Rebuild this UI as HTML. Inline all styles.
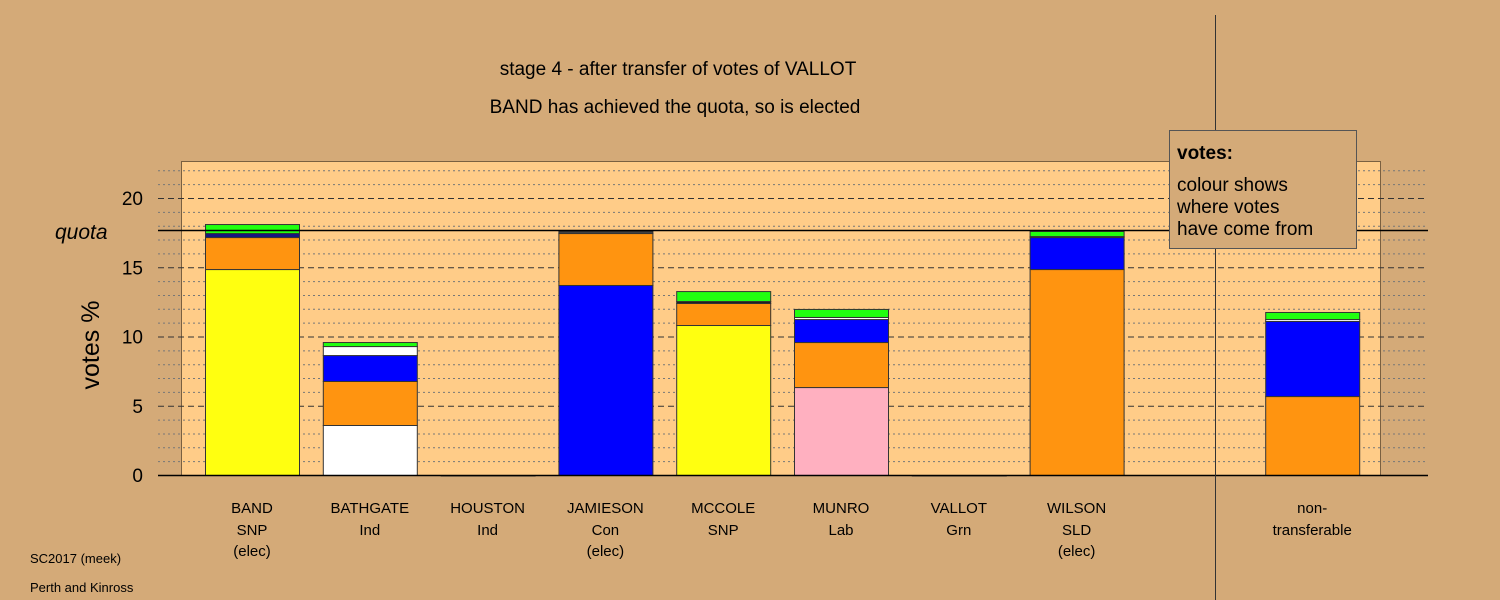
<!DOCTYPE html>
<html><head><meta charset="utf-8"><style>
body{margin:0;background:#d4aa78;}
svg{display:block;font-family:"Liberation Sans",sans-serif;}
</style></head><body>
<svg id="chart" width="1500" height="600" viewBox="0 0 1500 600" xmlns="http://www.w3.org/2000/svg">
<rect x="0" y="0" width="1500" height="600" fill="#d4aa78"/>
<rect x="181.5" y="161.5" width="1199" height="314" fill="#ffcc88" stroke="#7a6040" stroke-width="1"/>
<g id="grid"></g>
<g id="bars"></g>
<line x1="158" x2="1428" y1="230.5" y2="230.5" stroke="#000" stroke-width="1.5"/>
<line x1="158" x2="1428" y1="475.5" y2="475.5" stroke="#000" stroke-width="1.5"/>
<line x1="1215.5" x2="1215.5" y1="15" y2="600" stroke="#333" stroke-width="1"/>
<g id="yticks"></g>
<text x="55" y="239" font-size="21" font-style="italic">quota</text>
<text transform="translate(99,345) rotate(-90)" text-anchor="middle" font-size="25">votes %</text>
<text x="678" y="75" text-anchor="middle" font-size="19">stage 4 - after transfer of votes of VALLOT</text>
<text x="675" y="113" text-anchor="middle" font-size="19">BAND has achieved the quota, so is elected</text>
<g>
<rect x="1169.5" y="130.5" width="187" height="118" fill="#d4aa78" stroke="#555" stroke-width="1"/>
<text x="1177" y="159" font-size="19" font-weight="bold">votes:</text>
<text x="1177" y="191" font-size="19">colour shows</text>
<text x="1177" y="213" font-size="19">where votes</text>
<text x="1177" y="235" font-size="19">have come from</text>
</g>
<g id="xlabels"></g>
<text x="30" y="563" font-size="13">SC2017 (meek)</text>
<text x="30" y="592" font-size="13">Perth and Kinross</text>
</svg>
<script>
const candidates=["BAND","BATHGATE","HOUSTON","JAMIESON","MCCOLE","MUNRO","VALLOT","WILSON","non-"];
const parties=["SNP","Ind","Ind","Con","SNP","Lab","Grn","SLD","transferable"];
const elected=["(elec)","","","(elec)","","","","(elec)",""];
const slotIndex=[0,1,2,3,4,5,6,7,9];
// stacked segments per bar: [colour, value]
const segBAND=[["#ffff10",14.87],["#ff9410",2.31],["#141480",0.29],["#21ff10",0.65]];
const segBATHGATE=[["#ffffff",3.61],["#ff9410",3.18],["#0000ff",1.87],["#ffffff",0.65],["#21ff10",0.29]];
const segHOUSTON=[["#ffffff",0.0]];
const segJAMIESON=[["#0000ff",13.72],["#ff9410",3.75],["#404040",0.15]];
const segMCCOLE=[["#ffff10",10.83],["#ff9410",1.59],["#202020",0.14],["#21ff10",0.72]];
const segMUNRO=[["#ffb0c0",6.35],["#ff9410",3.25],["#0000ff",1.66],["#ffffff",0.15],["#21ff10",0.58]];
const segVALLOT=[["#ffffff",0.0]];
const segWILSON=[["#ff9410",14.87],["#0000ff",2.31],["#ffffff",0.07],["#21ff10",0.37]];
const segNT=[["#ff9410",5.70],["#0000ff",5.42],["#ffffff",0.14],["#21ff10",0.51]];
const segments=[segBAND,segBATHGATE,segHOUSTON,segJAMIESON,segMCCOLE,segMUNRO,segVALLOT,segWILSON,segNT];
const yTicks=[0,5,10,15,20];
const yMax=22;
const NS="http://www.w3.org/2000/svg";
const y=v=>475-v*13.85;
const xSlot=i=>205+i*117.8;
const bw=94;
const mk=(t,a)=>{const e=document.createElementNS(NS,t);for(const k in a)e.setAttribute(k,a[k]);return e;};
const grid=document.getElementById('grid');
for(let v=1;v<=yMax;v++){
  const major=v%5===0;
  const l=mk('line',{x1:158,x2:1428,y1:y(v)+0.5,y2:y(v)+0.5,stroke:major?'#333':'#777','stroke-width':1,'stroke-dasharray':major?'6,4':'2,3'});
  
  
  grid.appendChild(l);
}
const yt=document.getElementById('yticks');
yTicks.forEach(v=>{
  const t=mk('text',{x:143,y:y(v)+7,'text-anchor':'end','font-size':19});
  t.textContent=v;
  
  
  yt.appendChild(t);
});
const bars=document.getElementById('bars');
segments.forEach((segs,i)=>{
  const x=xSlot(slotIndex[i]);
  let base=0;
  segs.forEach(([c,v])=>{
    const r=mk('rect',{x:x+0.5,y:y(base+v)+0.5,width:bw,height:Math.max(v*13.85,0.5),fill:c,stroke:'#333','stroke-width':1});
    
    
    bars.appendChild(r);
    base+=v;
  });
});
const xl=document.getElementById('xlabels');
candidates.forEach((c,i)=>{
  const cx=xSlot(slotIndex[i])+bw/2;
  [[c,513,'candidate-name'],[parties[i],535,'party-label'],[elected[i],556,'elected-label']].forEach(([s,yy,n])=>{
    if(!s)return;
    const t=mk('text',{x:cx,y:yy,'text-anchor':'middle','font-size':15});
    t.textContent=s;
    
    
    xl.appendChild(t);
  });
});
</script>
</body></html>
